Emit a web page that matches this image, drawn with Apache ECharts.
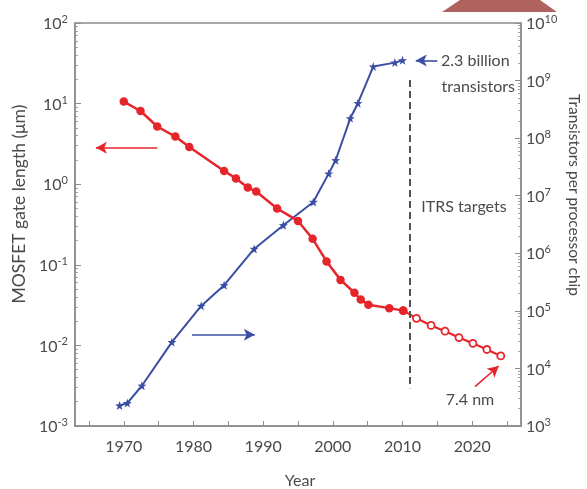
<!DOCTYPE html>
<html>
<head>
<meta charset="utf-8">
<script src="https://cdn.jsdelivr.net/npm/echarts@6/dist/echarts.min.js"></script>
<style>
  html, body { margin: 0; padding: 0; background: #fff; }
  #chart { width: 587px; height: 489px; }
</style>
</head>
<body>
<div id="chart"></div>
<script>
// gate length (um), measured
var gateYears = [1970, 1972.4, 1974.8, 1977.4, 1979.4, 1984.4, 1986.1, 1987.8, 1989, 1992, 1995, 1997.1, 1999.1, 2001.1, 2003.1, 2004, 2005.1, 2008.1, 2010.1];
var gateValues = [10.6, 8.1, 5.2, 3.9, 2.9, 1.46, 1.18, 0.91, 0.81, 0.5, 0.35, 0.21, 0.11, 0.065, 0.045, 0.037, 0.032, 0.029, 0.027];
// ITRS targets (first point repeats 2010 so the line joins)
var itrsYears = [2010.1, 2012, 2014.1, 2016.1, 2018.1, 2020.1, 2022.1, 2024.1];
var itrsValues = [0.027, 0.0217, 0.0177, 0.015, 0.0125, 0.0106, 0.0089, 0.0074];
// transistors per chip
var chipYears = [1969.4, 1970.5, 1972.6, 1976.9, 1981.1, 1984.4, 1988.7, 1992.9, 1997.2, 1999.4, 2000.4, 2002.5, 2003.6, 2005.8, 2008.9, 2010];
var chipValues = [2270, 2500, 5000, 28600, 122000, 279000, 1.19e6, 3.07e6, 7.8e6, 2.42e7, 4.13e7, 2.21e8, 4.04e8, 1.75e9, 2.05e9, 2.25e9];

var xTicks = [1965, 1970, 1975, 1980, 1985, 1990, 1995, 2000, 2005, 2010, 2015, 2020, 2025];
var xLabels = [1970, 1980, 1990, 2000, 2010, 2020];

// annotation lines, in data units
var redArrow = [[1974.8, 2.84], [1966.0, 2.84]];
var blueArrow = [[1979.8, 38300], [1988.8, 38300]];
var billionArrow = [[2015.0, 2.23e9], [2011.9, 2.23e9]];
var nmArrow = [[2020.4, 0.00308], [2023.8, 0.00555]];
var itrsLine = [[2011.1, 19.6], [2011.1, 0.00295]];

var red = '#e6252b';
var blue = '#3a4fa3';
var grey = '#8c8c8c';
var txt = '#4a4a4a';
var font = 'Lato';
var star = 'path://M0,-10L2.35,-3.24L9.51,-3.09L3.8,1.24L5.88,8.09L0,4L-5.88,8.09L-3.8,1.24L-9.51,-3.09L-2.35,-3.24Z';

function zip(xs, ys) {
  return xs.map(function (x, i) { return [x, ys[i]]; });
}
function pow10(v) {
  var e = Math.round(Math.log(v) / Math.LN10);
  return '{b|10}{s|' + e + '}';
}
function arrow(pts, color) {
  return {
    silent: true,
    symbol: ['none', 'arrow'],
    symbolSize: [9, 11],
    label: { show: false },
    lineStyle: { color: color, width: 1.6, type: 'solid' },
    data: [[{ coord: pts[0] }, { coord: pts[1] }]]
  };
}

var richLabel = {
  b: { fontSize: 16, fontFamily: font, color: txt, lineHeight: 18, verticalAlign: 'bottom' },
  s: { fontSize: 11, fontFamily: font, color: txt, lineHeight: 18, verticalAlign: 'top', padding: [0, 0, 6, 0] }
};

function logAxis(pos, min, max) {
  return {
    type: 'log',
    logBase: 10,
    position: pos,
    min: min,
    max: max,
    interval: 1,
    axisLine: { show: true, lineStyle: { color: grey, width: 1.5 } },
    axisTick: { show: true, inside: true, length: 6, lineStyle: { color: grey, width: 1 } },
    minorTick: { show: true, splitNumber: 9, length: 3, lineStyle: { color: grey, width: 0.8 } },
    splitLine: { show: false },
    minorSplitLine: { show: false },
    axisLabel: { margin: pos === 'left' ? 7 : 5, formatter: pow10, rich: richLabel }
  };
}

var chart = echarts.init(document.getElementById('chart'));
chart.setOption({
  animation: false,
  backgroundColor: '#fff',
  grid: { left: 75, top: 23, width: 446, height: 403, show: true, borderColor: grey, borderWidth: 1.5 },
  xAxis: {
    type: 'value',
    min: 1963,
    max: 2027,
    axisLine: { lineStyle: { color: grey, width: 1.5 } },
    axisTick: { inside: true, length: 5, customValues: xTicks, lineStyle: { color: grey } },
    axisLabel: {
      customValues: xLabels, margin: 13, fontSize: 16, fontFamily: font, color: txt,
      formatter: function (v) { return String(v); }
    },
    splitLine: { show: false }
  },
  yAxis: [logAxis('left', 0.001, 100), logAxis('right', 1000, 1e10)],
  series: [
    {
      type: 'line',
      yAxisIndex: 0,
      z: 3,
      data: zip(itrsYears, itrsValues),
      symbol: 'circle',
      symbolSize: 7,
      itemStyle: { color: '#fff', borderColor: red, borderWidth: 1.8 },
      lineStyle: { color: red, width: 2.2 },
      markLine: arrow(nmArrow, red)
    },
    {
      type: 'line',
      yAxisIndex: 0,
      z: 4,
      data: zip(gateYears, gateValues),
      symbol: 'circle',
      symbolSize: 8.5,
      itemStyle: { color: red },
      lineStyle: { color: red, width: 2.5 },
      markLine: arrow(redArrow, red)
    },
    {
      type: 'line',
      yAxisIndex: 1,
      z: 2,
      data: zip(chipYears, chipValues),
      symbol: star,
      symbolSize: 9,
      itemStyle: { color: blue },
      lineStyle: { color: blue, width: 2 },
      markLine: arrow(blueArrow, blue)
    },
    {
      type: 'line',
      yAxisIndex: 1,
      data: [],
      markLine: arrow(billionArrow, blue)
    },
    {
      type: 'line',
      yAxisIndex: 0,
      data: [],
      markLine: {
        silent: true,
        symbol: 'none',
        label: { show: false },
        lineStyle: { color: '#555', width: 2, type: [7, 4] },
        data: [[{ coord: itrsLine[0] }, { coord: itrsLine[1] }]]
      }
    }
  ],
  graphic: [
    { type: 'polygon', shape: { points: [[442, 12], [557, 12], [540, 0], [460, 0]] }, style: { fill: '#b0625f' } },
    { type: 'text', x: 19, y: 204, rotation: Math.PI / 2, style: { text: 'MOSFET gate length (μm)', font: '17.5px ' + font, fill: txt, align: 'center', verticalAlign: 'middle' } },
    { type: 'text', x: 574, y: 195, rotation: -Math.PI / 2, style: { text: 'Transistors per processor chip', font: '15.5px ' + font, fill: txt, align: 'center', verticalAlign: 'middle' } },
    { type: 'text', x: 300, y: 481, style: { text: 'Year', font: '16px ' + font, fill: txt, align: 'center', verticalAlign: 'middle' } },
    { type: 'text', x: 441, y: 61, style: { text: '2.3 billion', font: '16px ' + font, fill: txt, align: 'left', verticalAlign: 'middle' } },
    { type: 'text', x: 515, y: 87, style: { text: 'transistors', font: '16px ' + font, fill: txt, align: 'right', verticalAlign: 'middle' } },
    { type: 'text', x: 464, y: 207, style: { text: 'ITRS targets', font: '16px ' + font, fill: txt, align: 'center', verticalAlign: 'middle' } },
    { type: 'text', x: 470, y: 400, style: { text: '7.4 nm', font: '16px ' + font, fill: txt, align: 'center', verticalAlign: 'middle' } }
  ]
});
</script>
</body>
</html>
